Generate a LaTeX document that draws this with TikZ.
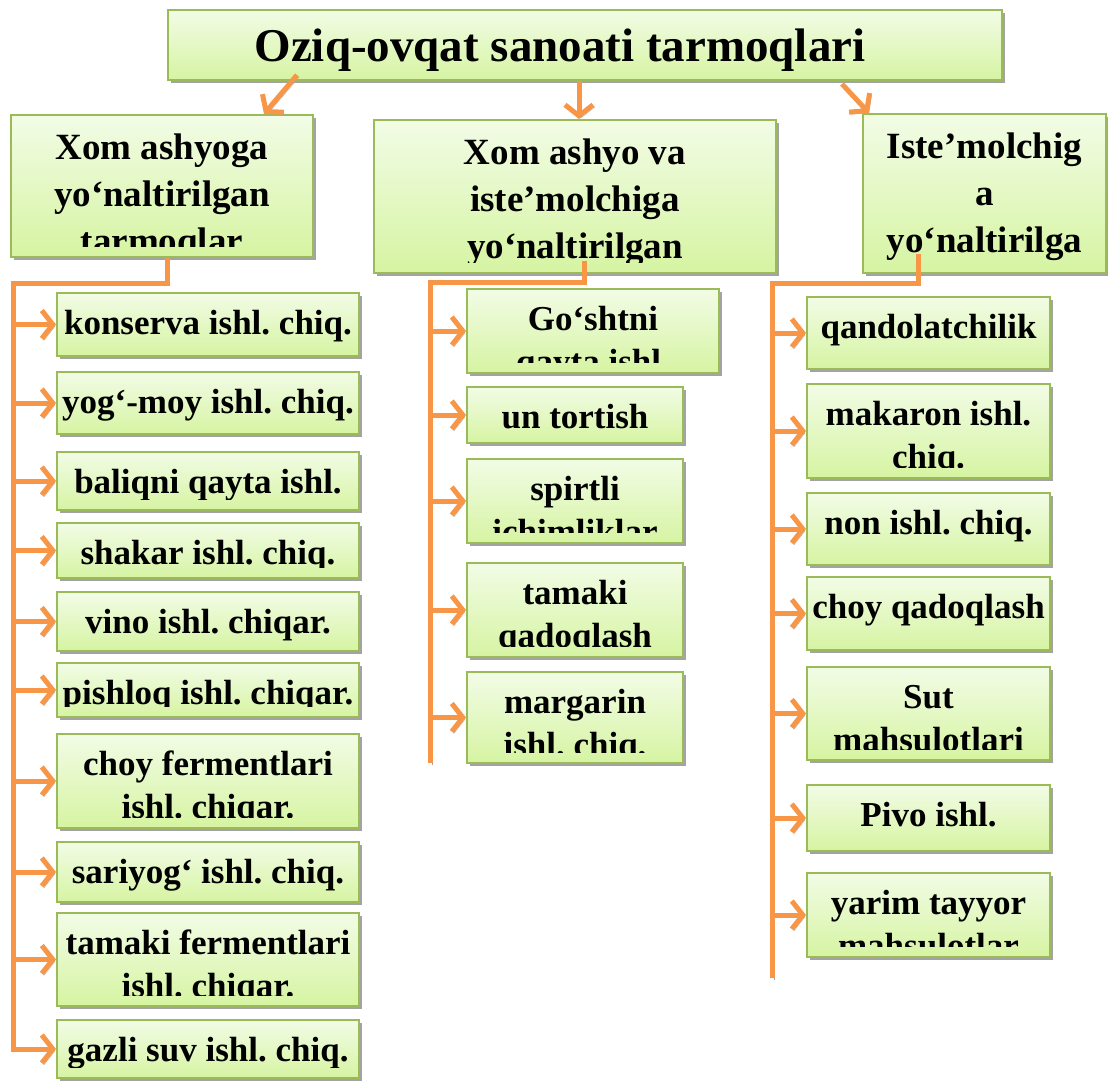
\documentclass[tikz,border=0pt]{standalone}
\usepackage{fontspec}
\setmainfont{Liberation Serif}
\usetikzlibrary{arrows.meta,shadows}
\frenchspacing

\definecolor{linkorange}{HTML}{F79646}
\definecolor{cellborder}{HTML}{9BBB59}
\definecolor{celltop}{HTML}{F2FCE6}
\definecolor{cellbottom}{HTML}{D6F4A2}
\definecolor{shadowgray}{HTML}{A3A3A3}

\tikzset{
  cell/.style={draw=cellborder, line width=2pt, top color=celltop, bottom color=cellbottom,
    drop shadow={shadow xshift=3pt, shadow yshift=-3pt, fill=shadowgray, opacity=1},
    inner sep=0pt},
  celltext/.style={anchor=base, yshift=-42pt, inner sep=0pt,
    font=\bfseries\fontsize{35}{43}\selectfont},
  headtext/.style={anchor=base, yshift=-45pt, inner sep=0pt,
    font=\bfseries\fontsize{37}{47}\selectfont},
  link/.style={draw=linkorange, line width=5pt, line join=miter,
    -{Straight Barb[length=11pt,width=28pt]},
    preaction={draw=shadowgray, transform canvas={xshift=2pt,yshift=-2pt}}},
  spine/.style={draw=linkorange, line width=5pt, line join=miter,
    preaction={draw=shadowgray, transform canvas={xshift=2pt,yshift=-2pt}}}
}

% name, left, top, right, bottom, text style, text
\newcommand{\cellbox}[7]{%
  \node[cell, minimum width={(#4-#2)*1pt}, minimum height={(#5-#3)*1pt}]
    (#1) at ({(#2+#4)/2},{(#3+#5)/2}) {};
  \begin{scope}
    \clip ([xshift=3pt,yshift=-3pt]#1.north west) rectangle ([xshift=-3pt,yshift=12pt]#1.south east);
    \node[#6] (#1-text) at (#1.north)
      {\begin{tabular}[t]{@{}c@{}}#7\end{tabular}};
  \end{scope}}

\def\spineL{13}
\def\spineM{430}
\def\spineR{772}

\begin{document}
\begin{tikzpicture}[x=1pt, y=-1pt]
  \useasboundingbox (0,0) rectangle (1108,1084);

  % top
  \node[cell, minimum width=834pt, minimum height=70pt, font=\bfseries\fontsize{47}{55}\selectfont]
    (title) at (585,45) {\hspace*{-50pt}\raisebox{-5pt}[\height][\depth]{Oziq-ovqat sanoati tarmoqlari}};

  \cellbox{hL}{11}{115}{313}{257}{headtext}{Xom ashyoga\\yo‘naltirilgan\\tarmoqlar}
  \cellbox{hM}{374}{120}{776}{273}{headtext}{Xom ashyo va\\iste’molchiga\\yo‘naltirilgan}
  \cellbox{hR}{863}{114}{1106}{273}{headtext}{Iste’molchig\\a\\yo‘naltirilga}

  % left column
  \cellbox{k1}{57}{293}{359}{356}{celltext}{konserva ishl. chiq.}
  \cellbox{k2}{57}{372}{359}{434}{celltext}{yog‘-moy ishl. chiq.}
  \cellbox{k3}{57}{452}{359}{510}{celltext}{baliqni qayta ishl.}
  \cellbox{k4}{57}{523}{359}{578}{celltext}{shakar ishl. chiq.}
  \cellbox{k5}{57}{592}{359}{651}{celltext}{vino ishl. chiqar.}
  \cellbox{k6}{57}{663}{359}{717}{celltext}{pishloq ishl. chiqar.}
  \cellbox{k7}{57}{734}{359}{828}{celltext}{choy fermentlari\\ishl. chiqar.}
  \cellbox{k8}{57}{842}{359}{902}{celltext}{sariyog‘ ishl. chiq.}
  \cellbox{k9}{57}{913}{359}{1006}{celltext}{tamaki fermentlari\\ishl. chiqar.}
  \cellbox{k10}{57}{1020}{359}{1078}{celltext}{gazli suv ishl. chiq.}

  % middle column
  \cellbox{m1}{467}{289}{719}{373}{celltext}{Go‘shtni\\qayta ishl.}
  \cellbox{m2}{467}{387}{683}{443}{celltext}{un tortish}
  \cellbox{m3}{467}{459}{683}{543}{celltext}{spirtli\\ichimliklar}
  \cellbox{m4}{467}{563}{683}{657}{celltext}{tamaki\\qadoqlash}
  \cellbox{m5}{467}{672}{683}{763}{celltext}{margarin\\ishl. chiq.}

  % right column
  \cellbox{r1}{807}{297}{1050}{369}{celltext}{qandolatchilik}
  \cellbox{r2}{807}{384}{1050}{478}{celltext}{makaron ishl.\\chiq.}
  \cellbox{r3}{807}{493}{1050}{565}{celltext}{non ishl. chiq.}
  \cellbox{r4}{807}{577}{1050}{650}{celltext}{choy qadoqlash}
  \cellbox{r5}{807}{667}{1050}{760}{celltext}{Sut\\mahsulotlari}
  \cellbox{r6}{807}{785}{1050}{851}{celltext}{Pivo ishl.}
  \cellbox{r7}{807}{873}{1050}{957}{celltext}{yarim tayyor\\mahsulotlar}

  % arrows from the title
  \draw[link] ([xshift=130pt,yshift=6pt]title.south west) -- ([xshift=254pt]hL.north west);
  \draw[link] ([xshift=412pt]title.south west) -- ([xshift=206pt]hM.north west);
  \draw[link] ([xshift=675pt,yshift=-3pt]title.south west) -- ([xshift=7pt]hR.north west);

  % spines
  \coordinate (sL) at (\spineL,283);
  \coordinate (sM) at (\spineM,282);
  \coordinate (sR) at (\spineR,283);
  \draw[link] ([xshift=157pt]hL.south west) |- (sL) |- (k10.west);
  \draw[spine] ([xshift=211pt,yshift=13pt]hM.south west) |- (sM) -- (\spineM,763);
  \draw[spine] ([xshift=56pt,yshift=20pt]hR.south west) |- (sR) -- (\spineR,978);

  \foreach \i in {1,...,9} {
    \draw[link] (k\i.west -| sL) -- (k\i.west);
  }
  \foreach \i in {1,...,5} {
    \draw[link] (m\i.west -| sM) -- (m\i.west);
  }
  \foreach \i in {1,...,7} {
    \draw[link] (r\i.west -| sR) -- (r\i.west);
  }
\end{tikzpicture}
\end{document}
